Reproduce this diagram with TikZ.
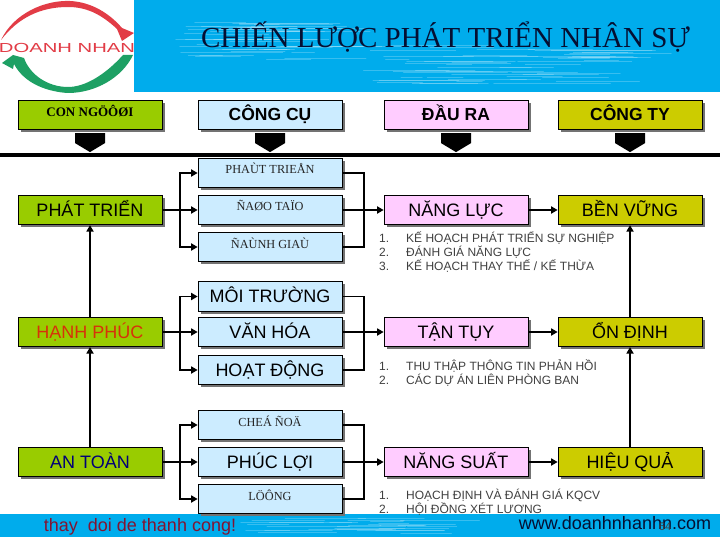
\documentclass[tikz,border=0pt]{standalone}
\usepackage{fontspec}
\setmainfont{Liberation Sans}
\newfontfamily\serifvn{Liberation Serif}
\usetikzlibrary{calc,shadows,arrows.meta}
\definecolor{skyb}{RGB}{0,172,236}
\definecolor{gr}{RGB}{153,204,0}
\definecolor{lb}{RGB}{204,236,255}
\definecolor{pk}{RGB}{255,204,255}
\definecolor{ol}{RGB}{204,204,0}
\definecolor{navy}{RGB}{5,15,50}
\definecolor{logor}{RGB}{226,60,70}
\definecolor{logog}{RGB}{30,160,100}
\tikzset{
  base/.style={draw=black,line width=0.7pt,minimum width=144pt,minimum height=29.5pt,inner sep=0pt,text height=12pt,text depth=0pt,font=\fontsize{18}{20}\selectfont,
     drop shadow={shadow xshift=2.5pt,shadow yshift=-2.5pt,fill=black!55,opacity=1}},
  green/.style={base,fill=gr},
  blue/.style={base,fill=lb},
  pink/.style={base,fill=pk},
  olive/.style={base,fill=ol},
  headf/.style={font=\bfseries\fontsize{17.5}{20}\selectfont},
  garb/.style={inner sep=0pt,font=\serifvn\fontsize{12.3}{13}\selectfont,text=black!85},
  conn/.style={line width=1.8pt,-{Triangle[length=6.5pt,width=7pt]}},
  bus/.style={line width=1.8pt},
  listtxt/.style={anchor=base west,inner sep=0pt,font=\fontsize{12}{13}\selectfont,text=black!75},
  wisp/.style={white,opacity=.22,line width=1pt,line cap=round},
}
\begin{document}
\begin{tikzpicture}[x=1pt,y=-1pt]
\useasboundingbox (0,0) rectangle (720,540);
\fill[white] (0,0) rectangle (720,540);
% header band
\fill[skyb] (134,0) rectangle (720,92);
\pgfmathsetseed{7}
\foreach \i in {1,...,45}{
  \pgfmathsetmacro{\wy}{22+rnd*38}
  \pgfmathsetmacro{\wx}{172+rnd*120}
  \pgfmathsetmacro{\wl}{20+rnd*90}
  \draw[wisp] (\wx,\wy) -- ++(\wl,0);
}
\foreach \i in {1,...,55}{
  \pgfmathsetmacro{\wy}{46+rnd*38}
  \pgfmathsetmacro{\wx}{360+rnd*230}
  \pgfmathsetmacro{\wl}{20+rnd*100}
  \draw[wisp] (\wx,\wy) -- ++(\wl,0);
}
% logo
\fill[logor] (1,40) .. controls (14,13) and (45,0) .. (70,1)
   .. controls (92,2) and (110,14) .. (122,28) -- (134,33) -- (122,41) -- (117,29)
   .. controls (100,13) and (85,7) .. (68,7)
   .. controls (40,7) and (18,18) .. (1,40) -- cycle;
\fill[logog] (24,58) -- (13,55) -- (2,63) -- (13,69) -- (14,64)
   .. controls (25,85) and (50,92) .. (68,93)
   .. controls (95,93) and (122,78) .. (133,55) -- (123,55)
   .. controls (105,75) and (85,87) .. (68,87)
   .. controls (48,87) and (30,75) .. (24,58) -- cycle;
\node (logotxt) at (67,48) [inner sep=0pt,text=logor,font=\fontsize{12.5}{14}\selectfont,xscale=1.62,yscale=1.05] {DOANH NHAN};
\node (title) at (445.5,37) [inner sep=0pt,text=navy,font=\serifvn\fontsize{29}{32}\selectfont] {CHIẾN LƯỢC PHÁT TRIỂN NHÂN SỰ};
% rail
\node (rail) at (360,155) [fill=black,minimum width=720pt,minimum height=3.6pt,inner sep=0pt] {};
% bottom band
\fill[skyb] (0,514) rectangle (720,536.5);
\foreach \i in {1,...,28}{
  \pgfmathsetmacro{\wy}{518+rnd*16}
  \pgfmathsetmacro{\wx}{235+rnd*180}
  \pgfmathsetmacro{\wl}{20+rnd*70}
  \draw[wisp] (\wx,\wy) -- ++(\wl,0);
}
% header boxes
\node[green] (h1) at (90,115) {};
\node (h1t) at (90,111) [inner sep=0pt,font=\serifvn\bfseries\fontsize{13}{14}\selectfont] {CON NGÖÔØI};
\node[blue,headf] (h2) at (270,115) {CÔNG CỤ};
\node[pink,headf] (h3) at (456,115) {ĐẦU RA};
\node[olive,headf] (h4) at (630,115) {CÔNG TY};
\foreach \n in {h1,h2,h3,h4}
  \fill[black] ($(\n.south)+(-15,3)$) -- ($(\n.south)+(15,3)$) -- ($(\n.south)+(15,13)$) -- ($(\n.south)+(0,22)$) -- ($(\n.south)+(-15,13)$) -- cycle;
% tool boxes
\node[blue] (a1) at (270,173) {};
\node[garb] (a1t) at (270,168.5) {PHAÙT TRIEÅN};
\node[blue] (a2) at (270,210) {};
\node[garb] (a2t) at (270,205.5) {ÑAØO TAÏO};
\node[blue] (a3) at (270,247) {};
\node[garb] (a3t) at (270,243) {ÑAÙNH GIAÙ};
\node[blue] (b1) at (270,296.5) {MÔI TRƯỜNG};
\node[blue] (b2) at (270,332) {VĂN HÓA};
\node[blue] (b3) at (270,370) {HOẠT ĐỘNG};
\node[blue] (c1) at (270,425) {};
\node[garb] (c1t) at (270,421) {CHEÁ ÑOÄ};
\node[blue] (c2) at (270,462) {PHÚC LỢI};
\node[blue] (c3) at (270,499) {};
\node[garb] (c3t) at (270,495) {LÖÔNG};
% left boxes
\node[green] (pt) at (90,210) {PHÁT TRIỂN};
\node[green,text={rgb,255:red,215;green,50;blue,10}] (hp) at (90,332) {HẠNH PHÚC};
\node[green,text={rgb,255:red,0;green,0;blue,120}] (at) at (90,462) {AN TOÀN};
% output boxes
\node[pink] (nl) at (456,210) {NĂNG LỰC};
\node[pink] (tt) at (456,332) {TẬN TỤY};
\node[pink] (ns) at (456,462) {NĂNG SUẤT};
% company boxes
\node[olive] (bv) at (630,210) {BỀN VỮNG};
\node[olive] (od) at (630,332) {ỔN ĐỊNH};
\node[olive] (hq) at (630,462) {HIỆU QUẢ};
% connectors left side
\foreach \l/\u/\m/\d in {pt/a1/a2/a3,hp/b1/b2/b3,at/c1/c2/c3}{
  \draw[conn] (\l.east) -- (\m.west);
  \draw[conn] ($(\l.east)+(18,0)$) |- (\u.west);
  \draw[conn] ($(\l.east)+(18,0)$) |- (\d.west);
}
% connectors middle
\foreach \u/\m/\d/\o in {a1/a2/a3/nl,b1/b2/b3/tt,c1/c2/c3/ns}{
  \draw[conn] (\m.east) -- (\o.west);
  \draw[bus] (\u.east) -| ($(\m.east)+(22,0)$);
  \draw[bus] (\d.east) -| ($(\m.east)+(22,0)$);
}
\draw[conn] (nl.east) -- (bv.west);
\draw[conn] (tt.east) -- (od.west);
\draw[conn] (ns.east) -- (hq.west);
% vertical connectors
\draw[conn] (hp.north) -- (pt.south);
\draw[conn] (at.north) -- (hp.south);
\draw[conn] (od.north) -- (bv.south);
\draw[conn] (hq.north) -- (od.south);
% lists
\foreach \y/\n/\t in {243/1./{KẾ HOẠCH PHÁT TRIỂN SỰ NGHIỆP},256/2./{ĐÁNH GIÁ NĂNG LỰC},270/3./{KẾ HOẠCH THAY THẾ / KẾ THỪA},370/1./{THU THẬP THÔNG TIN PHẢN HỒI},384/2./{CÁC DỰ ÁN LIÊN PHÒNG BAN},499/1./{HOẠCH ĐỊNH VÀ ĐÁNH GIÁ KQCV},513/2./{HỘI ĐỒNG XÉT LƯƠNG}}{
  \node[listtxt] at (379,\y) {\n};
  \node[listtxt] at (406,\y) {\t};
}
% bottom text
\node (slog) at (140,527) [inner sep=0pt,text={rgb,255:red,130;green,20;blue,50},font=\fontsize{18}{20}\selectfont] {thay\ \ doi de thanh cong!};
\node (web) at (615,523) [inner sep=0pt,text=navy,font=\fontsize{18}{20}\selectfont] {www.doanhnhanhn.com};
\node (pg) at (665,527) [inner sep=0pt,text=black!75,font=\fontsize{11}{12}\selectfont] {64};
\end{tikzpicture}
\end{document}
